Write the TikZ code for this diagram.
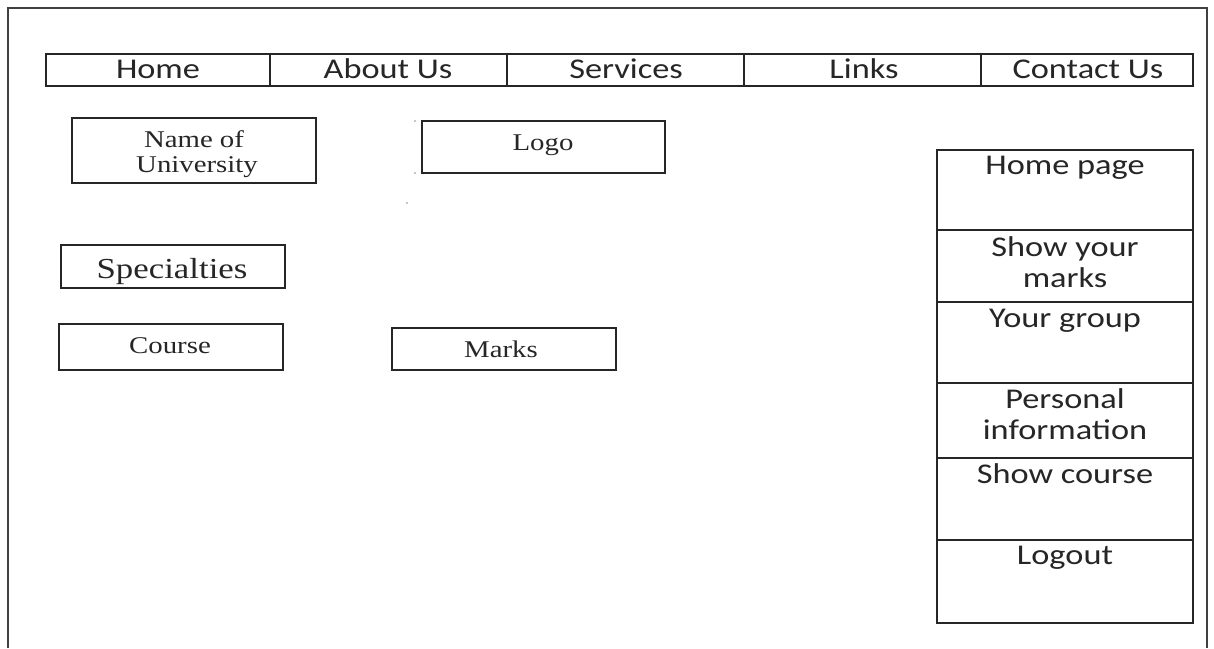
\documentclass[tikz,border=0pt]{standalone}
\usepackage{fontspec}
\newfontfamily\wsans[FakeStretch=1.2]{Carlito}
\newfontfamily\wserif[FakeStretch=1.2]{Liberation Serif}
\tikzset{
  x=1pt,y=-1pt,
  cell/.style={draw=black!85,line width=1.05pt,inner sep=0pt,outer sep=0pt,anchor=north west,fill=none},
  sanstxt/.style={inner sep=0pt,align=center,font=\wsans\fontsize{28.6}{31}\selectfont,text=black!85},
  seriftxt/.style={inner sep=0pt,align=center,font=\wserif\fontsize{24}{26}\selectfont,text=black!85},
  frameline/.style={draw=black!75,line width=1.5pt},
  speck/.style={fill=black!45,draw=none}
}
% name, x1, y1, width, height
\newcommand{\cellbox}[5]{\node[cell,minimum width=#4pt,minimum height=#5pt] (#1) at (#2,#3) {};}
\begin{document}
\begin{tikzpicture}
\useasboundingbox (0,0) rectangle (1214,648);
\fill[white] (0,0) rectangle (1214,648);
% outer frame, open at the bottom
\coordinate (fbl) at (8,648);
\coordinate (ftl) at (8,8);
\coordinate (ftr) at (1207,8);
\coordinate (fbr) at (1207,648);
\draw[frameline] (fbl) -- (ftl) -- (ftr) -- (fbr);
% navigation
\cellbox{n1}{46}{54}{224}{32}
\cellbox{n2}{270}{54}{237}{32}
\cellbox{n3}{507}{54}{237}{32}
\cellbox{n4}{744}{54}{237}{32}
\cellbox{n5}{981}{54}{212}{32}
\node[sanstxt] at (158,69) {Home};
\node[sanstxt] at (388,69) {About Us};
\node[sanstxt] at (626,69) {Services};
\node[sanstxt] at (864,69) {Links};
\node[sanstxt] at (1088,69) {Contact Us};
% left boxes
\cellbox{uni}{72}{118}{244}{65}
\node[seriftxt] at (194,139) {Name of};
\node[seriftxt] at (197,167) {University};
\cellbox{logo}{422}{121}{243}{52}
\node[seriftxt] at (543,145) {Logo};
\cellbox{spec}{61}{245}{224}{43}
\node[seriftxt,font=\wserif\fontsize{29}{31}\selectfont] at (172,272) {Specialties};
\cellbox{course}{59}{324}{224}{46}
\node[seriftxt] at (170,346) {Course};
\cellbox{marks}{392}{328}{224}{42}
\node[seriftxt] at (501,349) {Marks};
% right column
\cellbox{c1}{937}{150}{256}{80}
\cellbox{c2}{937}{230}{256}{72}
\cellbox{c3}{937}{302}{256}{81}
\cellbox{c4}{937}{383}{256}{75}
\cellbox{c5}{937}{458}{256}{82}
\cellbox{c6}{937}{540}{256}{83}
\node[sanstxt] at (1065,168) {Home page};
\node[sanstxt] at (1065,262) {Show your\\marks};
\node[sanstxt] at (1065,321) {Your group};
\node[sanstxt] at (1065,414) {Personal\\information};
\node[sanstxt] at (1065,474) {Show course};
\node[sanstxt] at (1065,558) {Logout};
% specks
\fill[speck] (415,121) circle (0.8);
\fill[speck] (415,173) circle (0.8);
\fill[speck] (407,203) circle (0.8);
\end{tikzpicture}
\end{document}
